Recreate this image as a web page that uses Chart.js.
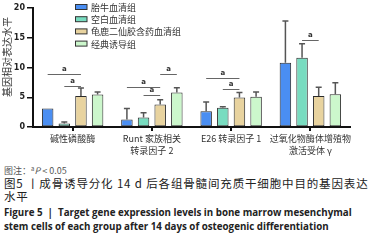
<!DOCTYPE html>
<html>
<head>
<meta charset="utf-8">
<script src="https://cdn.jsdelivr.net/npm/chart.js@4.4.0/dist/chart.umd.min.js"></script>
<style>
  body { margin: 0; width: 374px; height: 242px; background: #fff; overflow: hidden; position: relative; font-family: "Noto Sans CJK SC", sans-serif; }
  #wrap { position: absolute; left: 0; top: 0; width: 374px; height: 160px; }
  .cap { position: absolute; left: 4px; white-space: nowrap; }
  #note { top: 163px; font-size: 9px; line-height: 12px; color: #555; }
  #note sup { font-size: 6px; vertical-align: 3px; }
  #zh1, #zh2 { font-size: 11.5px; line-height: 13px; color: #222; letter-spacing: 0.85px; }
  #zh1 { top: 177px; }
  #zh2 { top: 190px; }
  #en1, #en2 { font-family: "Open Sans", sans-serif; font-weight: bold; font-size: 9.75px; line-height: 13px; color: #222; }
  #en1 { top: 206px; }
  #en2 { top: 220px; }
</style>
</head>
<body>
<div id="wrap"><canvas id="chart" width="374" height="160"></canvas></div>
<div class="cap" id="note">图注：<sup>a</sup><i>P</i> &lt; 0.05</div>
<div class="cap" id="zh1">图5 丨成骨诱导分化 14 d 后各组骨髓间充质干细胞中目的基因表达</div>
<div class="cap" id="zh2">水平</div>
<div class="cap" id="en1">Figure 5 &nbsp;| &nbsp;Target gene expression levels in bone marrow mesenchymal</div>
<div class="cap" id="en2">stem cells of each group after 14 days of osteogenic differentiation</div>

<script>
// categories and groups
const categories = [
  ["碱性磷酸酶"],
  ["Runt 家族相关", "转录因子 2"],
  ["E26 转录因子 1"],
  ["过氧化物酶体增殖物", "激活受体 γ"],
];
const groupNames = ["胎牛血清组", "空白血清组", "龟鹿二仙胶含药血清组", "经典诱导组"];
const groupColors = ["#4a8ef2", "#78dcc0", "#e8d39f", "#ccf7cc"];
const yTitle = "基因相对表达水平";

// mean values and upper error (SD)
const fbsValues = [3.1, 1.25, 2.65, 10.8];
const fbsErrors = [0, 1.85, 1.55, 7.0];
const blankValues = [0.57, 1.6, 3.25, 11.65];
const blankErrors = [0.28, 0.8, 0.15, 2.35];
const herbValues = [5.2, 3.8, 4.95, 5.2];
const herbErrors = [1.35, 0.8, 0.85, 1.5];
const classicValues = [5.45, 5.8, 5.1, 5.5];
const classicErrors = [0.45, 0.8, 0.8, 1.95];

const yTicks = [0, 5, 10, 15, 20];

// significance marks: [category, from group, to group, height]
const sigMarks = [
  [0, 0, 2, 8.86],
  [0, 1, 2, 6.84],
  [1, 0, 2, 6.67],
  [1, 1, 2, 5.33],
  [1, 2, 3, 8.86],
  [2, 0, 2, 8.2],
  [2, 1, 2, 6.34],
  [3, 1, 2, 14.6],
];

const allValues = [fbsValues, blankValues, herbValues, classicValues];
const allErrors = [fbsErrors, blankErrors, herbErrors, classicErrors];

const errorBars = {
  id: "errorBars",
  afterDatasetsDraw(chart) {
    const ctx = chart.ctx;
    const y = chart.scales.y;
    ctx.save();
    ctx.strokeStyle = "#555";
    ctx.lineWidth = 1.5;
    chart.data.datasets.forEach((ds, i) => {
      const meta = chart.getDatasetMeta(i);
      meta.data.forEach((bar, j) => {
        const err = allErrors[i][j];
        if (!err) return;
        const top = y.getPixelForValue(allValues[i][j] + err);
        ctx.beginPath();
        ctx.moveTo(bar.x, bar.y);
        ctx.lineTo(bar.x, top);
        ctx.moveTo(bar.x - 3, top);
        ctx.lineTo(bar.x + 3, top);
        ctx.stroke();
      });
    });
    // significance lines
    ctx.strokeStyle = "#666";
    ctx.lineWidth = 1;
    ctx.fillStyle = "#333";
    ctx.font = "bold 7px 'DejaVu Sans'";
    ctx.textAlign = "center";
    ctx.textBaseline = "bottom";
    sigMarks.forEach(([c, a, b, h]) => {
      const x1 = chart.getDatasetMeta(a).data[c].x;
      const x2 = chart.getDatasetMeta(b).data[c].x;
      const py = Math.round(y.getPixelForValue(h)) + 0.5;
      ctx.beginPath();
      ctx.moveTo(x1, py);
      ctx.lineTo(x2, py);
      ctx.stroke();
      ctx.fillText("a", (x1 + x2) / 2, py - 1.5);
    });
    ctx.restore();
  },
};

const boxLegend = {
  id: "boxLegend",
  afterDraw(chart) {
    const ctx = chart.ctx;
    ctx.save();
    ctx.font = "9px 'Noto Sans CJK SC'";
    ctx.textBaseline = "middle";
    groupNames.forEach((name, i) => {
      const cy = 7 + i * 12.2;
      ctx.fillStyle = groupColors[i];
      ctx.fillRect(75, cy - 2.5, 12, 5);
      ctx.strokeStyle = "#333";
      ctx.lineWidth = 1;
      ctx.strokeRect(75.5, cy - 2.5, 11.5, 5);
      ctx.fillStyle = "#333";
      ctx.fillText(name, 91, cy + 0.5);
    });
    // y axis title, a bit above the middle like the original
    ctx.translate(7, 57);
    ctx.rotate(-Math.PI / 2);
    ctx.font = "10px 'Noto Sans CJK SC'";
    ctx.textAlign = "center";
    ctx.fillText(yTitle, 0, 0);
    ctx.restore();
  },
};

new Chart(document.getElementById("chart"), {
  type: "bar",
  data: {
    labels: categories,
    datasets: groupNames.map((name, i) => ({
      label: name,
      data: allValues[i],
      backgroundColor: groupColors[i],
      borderColor: "#2a2a2a",
      borderWidth: 1,
      borderSkipped: false,
      categoryPercentage: 0.84,
      barPercentage: 0.69,
    })),
  },
  options: {
    responsive: false,
    devicePixelRatio: 1,
    animation: false,
    layout: { padding: { top: 8, right: 24, left: 0, bottom: 0 } },
    plugins: { legend: { display: false }, tooltip: { enabled: false } },
    scales: {
      x: {
        grid: { display: true, drawOnChartArea: false, offset: false, tickLength: 4, color: "#111", lineWidth: 2 },
        border: { display: true, color: "#111", width: 2 },
        ticks: { color: "#333", font: { family: "Noto Sans CJK SC", size: 9, lineHeight: 1.33 }, padding: 2, maxRotation: 0, autoSkip: false },
        afterFit(scale) { scale.height = 33; },
      },
      y: {
        min: 0,
        max: 20,
        afterBuildTicks(scale) { scale.ticks = yTicks.map((v) => ({ value: v })); },
        grid: { display: true, drawOnChartArea: false, tickLength: 6, color: "#111", lineWidth: 1.5 },
        border: { display: true, color: "#111", width: 2 },
        ticks: { color: "#222", font: { family: "DejaVu Sans", size: 8, weight: "bold" }, padding: 2 },
        afterFit(scale) { scale.width = 33; },
      },
    },
  },
  plugins: [errorBars, boxLegend],
});
</script>
</body>
</html>
